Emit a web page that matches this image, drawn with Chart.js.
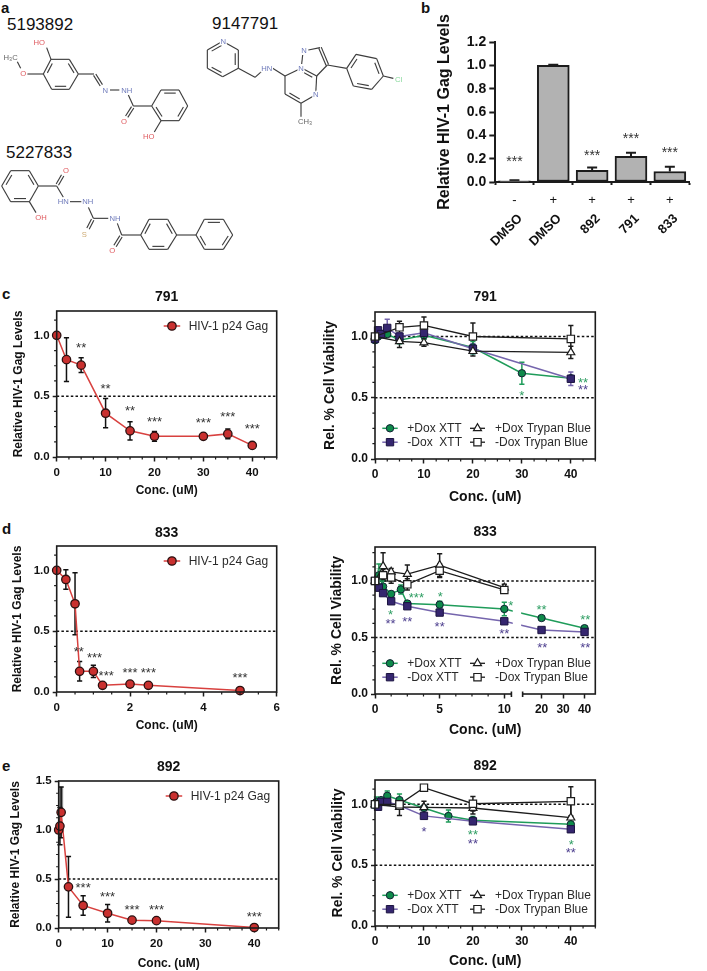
<!DOCTYPE html>
<html><head><meta charset="utf-8">
<script src="https://cdn.jsdelivr.net/npm/chart.js@4/dist/chart.umd.js"></script>
<style>
html,body{margin:0;padding:0;background:#fff;width:707px;height:971px;overflow:hidden;font-family:"Liberation Sans",Arial,sans-serif}
canvas{position:absolute;filter:blur(0.3px)}
.lbl{position:absolute;color:#111;white-space:nowrap;line-height:1}
.pl{font-weight:bold;font-size:15px}
.cn{font-size:17px}
svg{position:absolute;left:0;top:0;filter:blur(0.3px)}
</style></head><body>
<div class="lbl pl" style="left:1px;top:0px">a</div>
<div class="lbl pl" style="left:421px;top:0px">b</div>
<div class="lbl pl" style="left:2px;top:286px">c</div>
<div class="lbl pl" style="left:2px;top:521px">d</div>
<div class="lbl pl" style="left:2px;top:758px">e</div>
<div class="lbl cn" style="left:7px;top:16px">5193892</div>
<div class="lbl cn" style="left:212px;top:15px">9147791</div>
<div class="lbl cn" style="left:6px;top:144px">5227833</div>
<svg id="mol" width="420" height="280" viewBox="0 0 1260 840"></svg>
<script>
// ---------- panel b ----------
const bCategories = ['DMSO','DMSO','892','791','833'];
const bDox = ['-','+','+','+','+'];
const bValues = [0.01,1.0,0.10,0.22,0.09];
const bErrors = [0.006,0.005,0.025,0.03,0.04];
const bStars = [[0,0.19,'***'],[2,0.245,'***'],[3,0.394,'***'],[4,0.268,'***']];

// ---------- panel c ----------
const c791Conc = [0,2,5,10,15,20,30,35,40];
const c791Gag = [1.0,0.80,0.755,0.36,0.215,0.17,0.17,0.19,0.095];
const c791GagErr = [0,0.18,0.06,0.12,0.075,0.04,0.012,0.04,0.005];
const c791GagStars = [[5,0.91,'**'],[10,0.575,'**'],[15,0.397,'**'],[20,0.307,'***'],[30,0.296,'***'],[35,0.348,'***'],[40,0.247,'***']];

const c791GreenX = [0,0.625,1.25,2.5,5,10,20,30,40];
const c791Green = [0.97,1.0,1.02,1.02,0.97,1.01,0.91,0.70,0.66];
const c791GreenErr = [0.02,0.02,0.02,0.02,0.03,0.03,0.05,0.09,0.02];
const c791PurpleX = [0,0.625,1.25,2.5,5,10,20,40];
const c791Purple = [0.98,1.05,1.02,1.07,1.0,1.03,0.90,0.655];
const c791PurpleErr = [0.02,0.03,0.03,0.07,0.03,0.04,0.04,0.055];
const c791TriX = [0,5,10,20,40];
const c791Tri = [1.0,0.96,0.95,0.88,0.87];
const c791TriErr = [0.01,0.05,0.03,0.04,0.05];
const c791SqX = [0,5,10,20,40];
const c791Sq = [1.0,1.075,1.09,1.0,0.98];
const c791SqErr = [0.01,0.05,0.07,0.11,0.11];
const c791GreenStars = [[30,0.533,'*'],[42.5,0.642,'**']];
const c791PurpleStars = [[42.5,0.58,'**']];

// ---------- panel d ----------
const d833Conc = [0,0.25,0.5,0.625,1,1.25,2,2.5,5];
const d833Gag = [1.0,0.925,0.725,0.17,0.17,0.055,0.065,0.055,0.012];
const d833GagErr = [0,0.08,0.255,0.08,0.05,0.01,0.01,0.01,0.005];
const d833GagStars = [[0.6,0.347,'**'],[1.03,0.295,'***'],[1.35,0.15,'***'],[2,0.17,'***'],[2.5,0.17,'***'],[5,0.13,'***']];

const d833GreenX = [0,0.3,0.625,1.25,2,2.5,5,10,20,40];
const d833Green = [1.0,1.05,0.95,0.885,0.925,0.80,0.79,0.752,0.672,0.582];
const d833GreenErr = [0.02,0.10,0.05,0.02,0.04,0.02,0.03,0.06,0.02,0.02];
const d833PurpleX = [0,0.3,0.625,1.25,2.5,5,10,20,40];
const d833Purple = [1.0,0.94,0.892,0.82,0.776,0.72,0.643,0.566,0.549];
const d833PurpleErr = [0.01,0.02,0.02,0.02,0.02,0.02,0.02,0.02,0.02];
const d833TriX = [0,0.625,1.25,2.5,5,10];
const d833Tri = [1.0,1.13,1.08,1.06,1.14,0.94];
const d833TriErr = [0.01,0.12,0.03,0.08,0.10,0.03];
const d833SqX = [0,0.625,1.25,2.5,5,10];
const d833Sq = [1.0,1.05,1.03,0.97,1.09,0.92];
const d833SqErr = [0.01,0.05,0.05,0.05,0.06,0.03];
const d833GreenStars = [[0.3,1.10,'*'],[1.2,0.714,'*'],[3.2,0.865,'***'],[5.05,0.876,'*'],[10.5,0.80,'*'],[20,0.758,'**'],[40.3,0.67,'**']];
const d833PurpleStars = [[1.2,0.637,'**'],[2.5,0.66,'**'],[5,0.61,'**'],[10,0.546,'**'],[20.3,0.428,'**'],[40.3,0.428,'**']];

// ---------- panel e ----------
const e892Conc = [0,0.25,0.5,2,5,10,15,20,40];
const e892Gag = [1.0,1.04,1.18,0.42,0.23,0.15,0.08,0.075,0.005];
const e892GagErr = [0,0.19,0.26,0.31,0.10,0.09,0.01,0.01,0.005];
const e892GagBand = [0,0,0.26,0,0,0,0,0,0];
const e892GagStars = [[5,0.432,'***'],[10,0.34,'***'],[15,0.207,'***'],[20,0.207,'***'],[40,0.13,'***']];

const e892GreenX = [0,0.3,1.25,2.5,5,10,15,20,40];
const e892Green = [1.0,1.02,1.035,1.07,1.035,0.97,0.904,0.869,0.836];
const e892GreenErr = [0.03,0.04,0.02,0.04,0.05,0.02,0.05,0.03,0.04];
const e892PurpleX = [0,0.625,1.25,2.5,5,10,20,40];
const e892Purple = [1.0,0.98,1.02,1.02,0.99,0.905,0.86,0.795];
const e892PurpleErr = [0.02,0.02,0.02,0.02,0.02,0.02,0.02,0.02];
const e892TriX = [0,5,10,20,40];
const e892Tri = [1.0,0.978,0.975,0.97,0.89];
const e892TriErr = [0.01,0.07,0.05,0.05,0.12];
const e892SqX = [0,5,10,20,40];
const e892Sq = [1.0,1.0,1.137,1.005,1.025];
const e892SqErr = [0.01,0.01,0.01,0.06,0.12];
const e892GreenStars = [[20,0.765,'**'],[40.1,0.686,'*']];
const e892PurpleStars = [[10,0.787,'*'],[20,0.694,'**'],[40,0.615,'**']];

// ---------- shared labels ----------
const gagLegend = 'HIV-1 p24 Gag';
const viabLegendC = ['+Dox XTT','-Dox  XTT','+Dox Trypan Blue','-Dox Trypan Blue'];
const viabLegend = ['+Dox XTT','-Dox XTT','+Dox Trypan Blue','-Dox Trypan Blue'];
const gagTitle = 'Relative HIV-1 Gag Levels';
const viabTitle = 'Rel. % Cell Viability';
const concTitle = 'Conc. (uM)';
const halfLine = [0.5];
const viabRefLines = [0.5,1.0];
const xTicks45 = [0,10,20,30,40];
const xTicksD = [0,2,4,6];
const xTicksDR = [0,5,10,20,30,40];
const yTicks12 = [0,0.5,1.0];
const yTicks15 = [0,0.5,1.0,1.5];

// ---------- chart helpers ----------
const FONT = '"Liberation Sans", Arial, sans-serif';
Chart.defaults.font.family = FONT;
Chart.defaults.color = '#111';
const INK = '#1c1c1c', RED_FILL='#c9302f', RED_LINE='#d8413f';
const GREEN_LINE='#1f9c5a', GREEN_FILL='#0e8a4a', PURPLE_LINE='#7565ad', PURPLE_FILL='#35266f';
const STYLE = {
  gag:{point:'circle',radius:4.2,fill:RED_FILL,line:RED_LINE,width:1.5,edge:'#2a1010',edgeW:1.3,err:'#111'},
  green:{point:'circle',radius:3.7,fill:GREEN_FILL,line:GREEN_LINE,width:1.5,edge:'#123',edgeW:1,err:GREEN_LINE},
  purple:{point:'rect',radius:5.2,fill:PURPLE_FILL,line:PURPLE_LINE,width:1.5,edge:'#1c1440',edgeW:1,err:PURPLE_LINE},
  tri:{point:'triangle',radius:4.6,fill:'#fff',line:INK,width:1.3,edge:INK,edgeW:1.2,err:INK},
  sq:{point:'rect',radius:5.2,fill:'#fff',line:INK,width:1.3,edge:INK,edgeW:1.2,err:INK}
};
function series(label,xs,ys,errs,s){
  return {label,data:xs.map((x,i)=>({x,y:ys[i]})),errors:errs,errorColor:s.err,clip:false,tension:0,
    borderColor:s.line,borderWidth:s.width,backgroundColor:s.fill,pointStyle:s.point,pointRadius:s.radius,
    pointBackgroundColor:s.fill,pointBorderColor:s.edge,pointBorderWidth:s.edgeW};
}
function refLine(y,x0,x1){
  return {label:'ref '+y,data:[{x:x0,y},{x:x1,y}],borderColor:'#111',borderWidth:1.5,borderDash:[2.5,2.2],pointRadius:0,clip:false};
}
// value axis with a broken section, used by the 833 viability panel
class BrokenLinear extends Chart.LinearScale {
  getPixelForValue(v){
    const b=BrokenLinear.cut;
    return v<=b.end1 ? this.left+v*b.k1 : this.right-(this.max-v)*b.k2;
  }
}
BrokenLinear.id='brokenLinear';
BrokenLinear.defaults={};
BrokenLinear.cut={end1:10.55,start2:11.2,k1:12.93,k2:2.15};
Chart.register(BrokenLinear);

function steps(a,b,s,skip){const out=[];for(let i=0;;i++){const v=a+i*s;if(v>b+1e-9)break;if(!skip.some(t=>Math.abs(t-v)<1e-9))out.push(v);}return out;}

function panelPlugin(c){
  return {id:'panel',
    beforeDatasetsDraw(chart){
      const ctx=chart.ctx,X=chart.scales.x,Y=chart.scales.y;
      chart.data.datasets.forEach(ds=>{
        if(ds.band){
          ctx.save();ctx.strokeStyle='#8a8a8a';ctx.lineWidth=4;
          ds.band.forEach((e,i)=>{if(!e)return;const p=ds.data[i],x=X.getPixelForValue(p.x);
            ctx.beginPath();ctx.moveTo(x,Y.getPixelForValue(p.y));ctx.lineTo(x,Y.getPixelForValue(p.y+e));ctx.stroke();});
          ctx.restore();
        }
        if(!ds.errors)return;
        ctx.save();ctx.strokeStyle=ds.errorColor;ctx.lineWidth=1.5;
        ds.errors.forEach((e,i)=>{
          if(!e)return;
          const p=ds.data[i],x=X.getPixelForValue(p.x),a=Y.getPixelForValue(p.y+e),b=Y.getPixelForValue(Math.max(p.y-e,0));
          ctx.beginPath();ctx.moveTo(x,a);ctx.lineTo(x,b);ctx.moveTo(x-2.6,a);ctx.lineTo(x+2.6,a);ctx.moveTo(x-2.6,b);ctx.lineTo(x+2.6,b);ctx.stroke();
        });
        ctx.restore();
      });
    },
    afterDatasetsDraw(chart){
      const ctx=chart.ctx,X=chart.scales.x,Y=chart.scales.y,A=chart.chartArea;
      ctx.save();
      if(c.broken){ // interruption of the curves across the axis break
        ctx.fillStyle='#fff';
        const xa=X.left+10.63*BrokenLinear.cut.k1+0.3, xb=X.right-(X.max-11.2)*BrokenLinear.cut.k2-1.5;
        ctx.fillRect(xa,Y.getPixelForValue(0.82),xb-xa,Y.getPixelForValue(0.56)-Y.getPixelForValue(0.82));
      }
      ctx.strokeStyle=INK;ctx.lineWidth=1.6;
      ctx.strokeRect(A.left,A.top,A.right-A.left,A.bottom-A.top);
      if(c.broken){
        const xa=X.left+BrokenLinear.cut.end1*BrokenLinear.cut.k1, xb=X.right-(X.max-BrokenLinear.cut.start2)*BrokenLinear.cut.k2;
        ctx.fillStyle='#fff';ctx.fillRect(xa,A.bottom-1.5,xb-xa,3);
        ctx.beginPath();ctx.moveTo(xa,A.bottom-2.5);ctx.lineTo(xa,A.bottom+3);ctx.moveTo(xb,A.bottom-2.5);ctx.lineTo(xb,A.bottom+3);ctx.stroke();
      }
      // minor ticks
      ctx.lineWidth=1.2;ctx.beginPath();
      c.xMinor.forEach(v=>{const x=X.getPixelForValue(v);ctx.moveTo(x,A.bottom);ctx.lineTo(x,A.bottom+2.6);});
      c.yMinor.forEach(v=>{const y=Y.getPixelForValue(v);ctx.moveTo(A.left,y);ctx.lineTo(A.left-2.6,y);});
      ctx.stroke();
      // significance marks
      ctx.textAlign='center';ctx.textBaseline='middle';ctx.font='13px '+FONT;
      (c.stars||[]).forEach(set=>{
        ctx.fillStyle=set.color;
        set.items.forEach(s=>ctx.fillText(s[2],X.getPixelForValue(s[0]),Y.getPixelForValue(s[1])+2.6));
      });
      // legend inside the plot
      ctx.textAlign='left';ctx.font='12px '+FONT;
      (c.legend||[]).forEach(l=>{
        const s=l.style,y=l.dy<0?A.bottom+l.dy:A.top+l.dy;
        ctx.strokeStyle=s.line;ctx.lineWidth=s.width;ctx.beginPath();ctx.moveTo(A.left+l.x0,y);ctx.lineTo(A.left+l.x1,y);ctx.stroke();
        ctx.fillStyle=s.fill;ctx.strokeStyle=s.edge;ctx.lineWidth=s.edgeW;
        Chart.helpers.drawPoint(ctx,{pointStyle:s.point,rotation:0,radius:s.radius,borderWidth:s.edgeW},A.left+(l.x0+l.x1)/2,y);
        ctx.fillStyle='#2a2a2a';ctx.fillText(l.text,A.left+l.tx,y+0.5);
      });
      ctx.restore();
    }};
}

function makeChart(c){
  const [l,t,r,b]=c.plot;
  const cl=l>300?320:0, cw=l>300?300:300, ct=t-30, ch=b-t+30+50;
  const cv=document.createElement('canvas');
  cv.width=cw;cv.height=ch;cv.style.left=cl+'px';cv.style.top=ct+'px';document.body.appendChild(cv);
  const yLh=c.ySize*1.2,xLh=c.xSize*1.2,xH=c.xTitleY-b+xLh/2,tLh=14*1.2,pt=c.titleY-ct-tLh/2;
  new Chart(cv.getContext('2d'),{
    type:'line',
    data:{datasets:c.datasets},
    options:{responsive:false,animation:false,devicePixelRatio:1,
      layout:{padding:{left:0,top:0,right:cw-(r-cl),bottom:ch-(b-ct)-xH}},
      plugins:{legend:{display:false},tooltip:{enabled:false},
        title:{display:true,text:c.title,fullSize:false,font:{size:14,weight:'bold'},color:'#111',padding:{top:pt,bottom:30-tLh-pt}}},
      scales:{
        x:{type:c.broken?'brokenLinear':'linear',min:c.xMin,max:c.xMax,
          afterBuildTicks:s=>{s.ticks=c.xTicks.map(v=>({value:v}));},
          afterFit:s=>{s.height=xH;},
          grid:{drawOnChartArea:false,tickLength:4.5,tickWidth:1.5,tickColor:INK},border:{display:false},
          ticks:{autoSkip:false,maxRotation:0,padding:4,color:'#111',font:{size:c.tickSize,weight:'bold'},callback:v=>String(v)},
          title:{display:true,text:concTitle,color:'#111',font:{size:c.xSize,weight:'bold'},padding:{top:0,bottom:0}}},
        y:{type:'linear',min:0,max:c.yMax,
          afterBuildTicks:s=>{s.ticks=c.yTicks.map(v=>({value:v}));},
          afterFit:s=>{s.width=l-cl;},
          grid:{drawOnChartArea:false,tickLength:4,tickWidth:1.5,tickColor:INK},border:{display:false},
          ticks:{autoSkip:false,padding:3,color:'#111',font:{size:c.tickSize,weight:'bold'},callback:v=>v.toFixed(1)},
          title:{display:true,text:c.yTitle,color:'#111',font:{size:c.ySize,weight:'bold'},padding:{top:c.yTitleX-cl-yLh/2,bottom:0}}}
      }},
    plugins:[panelPlugin(c)]
  });
}
function gagChart(o){
  const main=series(gagLegend,o.xs,o.ys,o.errs,STYLE.gag);
  if(o.band)main.band=o.band;
  makeChart(Object.assign({ySize:12,xSize:12,tickSize:11.5,yTitle:gagTitle,
    datasets:[main,refLine(halfLine[0],o.xMin,o.xMax)],
    stars:[{color:'#333',items:o.starItems}],
    legend:[{style:STYLE.gag,text:gagLegend,x0:107,x1:123.5,tx:132,dy:15}]},o));
}
function viabChart(o){
  const names=o.names||viabLegend;
  makeChart(Object.assign({ySize:14,xSize:14,tickSize:12,yTitle:viabTitle,yMax:1.2,yTicks:yTicks12,
    datasets:[series(names[3],o.sq[0],o.sq[1],o.sq[2],STYLE.sq),
      series(names[2],o.tri[0],o.tri[1],o.tri[2],STYLE.tri),
      series(names[1],o.pur[0],o.pur[1],o.pur[2],STYLE.purple),
      series(names[0],o.gre[0],o.gre[1],o.gre[2],STYLE.green),
      ...viabRefLines.map(y=>refLine(y,o.xMin,o.xMax))],
    stars:[{color:'#2f9e63',items:o.gs},{color:'#4d3f8e',items:o.ps}],
    legend:[{style:STYLE.green,text:names[0],x0:7.3,x1:22.7,tx:32.3,dy:-30.7},
      {style:STYLE.purple,text:names[1],x0:7.3,x1:22.7,tx:32.3,dy:-16.8},
      {style:STYLE.tri,text:names[2],x0:95,x1:110,tx:120,dy:-30.7},
      {style:STYLE.sq,text:names[3],x0:95,x1:110,tx:120,dy:-16.8}]},o));
}

const y125 = steps(0,1.2,0.125,yTicks12);
const x25 = steps(0,45,2.5,xTicks45);

gagChart({plot:[56.7,310.7,276.7,456.7],title:'791',titleY:297.3,yTitleX:18.7,xTitleY:490,xMin:0,xMax:45,xTicks:xTicks45,xMinor:x25,yMax:1.2,yTicks:yTicks12,yMinor:y125,
  xs:c791Conc,ys:c791Gag,errs:c791GagErr,starItems:c791GagStars});
viabChart({plot:[375,312,595.3,459],title:'791',titleY:297.5,yTitleX:330,xTitleY:496.7,xMin:0,xMax:45,xTicks:xTicks45,xMinor:x25,yMinor:y125,names:viabLegendC,
  gre:[c791GreenX,c791Green,c791GreenErr],pur:[c791PurpleX,c791Purple,c791PurpleErr],tri:[c791TriX,c791Tri,c791TriErr],sq:[c791SqX,c791Sq,c791SqErr],gs:c791GreenStars,ps:c791PurpleStars});

gagChart({plot:[56.7,545.7,276.7,691.7],title:'833',titleY:532.5,yTitleX:17.5,xTitleY:725,xMin:0,xMax:6,xTicks:xTicksD,xMinor:steps(0,6,0.5,xTicksD),yMax:1.2,yTicks:yTicks12,yMinor:y125,
  xs:d833Conc,ys:d833Gag,errs:d833GagErr,starItems:d833GagStars});
viabChart({plot:[375,547,595.3,694],broken:true,title:'833',titleY:532.5,yTitleX:337,xTitleY:730,xMin:0,xMax:45,xTicks:xTicksDR,xMinor:steps(0,10,1.25,xTicksDR),yMax:1.3,yMinor:steps(0,1.3,0.125,yTicks12),
  gre:[d833GreenX,d833Green,d833GreenErr],pur:[d833PurpleX,d833Purple,d833PurpleErr],tri:[d833TriX,d833Tri,d833TriErr],sq:[d833SqX,d833Sq,d833SqErr],gs:d833GreenStars,ps:d833PurpleStars});

gagChart({plot:[58.7,781,278.7,928],title:'892',titleY:767,yTitleX:15.5,xTitleY:964,xMin:0,xMax:45,xTicks:xTicks45,xMinor:x25,yMax:1.5,yTicks:yTicks15,yMinor:steps(0,1.5,0.125,yTicks15),
  xs:e892Conc,ys:e892Gag,errs:e892GagErr,band:e892GagBand,starItems:e892GagStars});
viabChart({plot:[375,780.3,595.3,927],title:'892',titleY:766.5,yTitleX:338,xTitleY:962,xMin:0,xMax:45,xTicks:xTicks45,xMinor:x25,yMinor:y125,
  gre:[e892GreenX,e892Green,e892GreenErr],pur:[e892PurpleX,e892Purple,e892PurpleErr],tri:[e892TriX,e892Tri,e892TriErr],sq:[e892SqX,e892Sq,e892SqErr],gs:e892GreenStars,ps:e892PurpleStars});

// ---------- bar panel b ----------
(function(){
  const cl=430,ct=0,cw=277,ch=270,l=495,t=42,r=705.7,b=182;
  const cv=document.createElement('canvas');cv.width=cw;cv.height=ch;cv.style.left=cl+'px';cv.style.top=ct+'px';document.body.appendChild(cv);
  const labelPlugin={id:'barExtras',
    beforeDatasetsDraw(chart){
      const ctx=chart.ctx,X=chart.scales.x,Y=chart.scales.y;
      ctx.save();ctx.strokeStyle=INK;ctx.lineWidth=2;
      bValues.forEach((v,i)=>{const x=X.getPixelForValue(i),a=Y.getPixelForValue(v+bErrors[i]),z=Y.getPixelForValue(v);
        ctx.beginPath();ctx.moveTo(x,z);ctx.lineTo(x,a);ctx.moveTo(x-5,a);ctx.lineTo(x+5,a);ctx.stroke();});
      ctx.restore();
    },
    afterDatasetsDraw(chart){
      const ctx=chart.ctx,X=chart.scales.x,Y=chart.scales.y;
      ctx.save();ctx.textBaseline='middle';ctx.fillStyle='#333';ctx.textAlign='center';ctx.font='14px '+FONT;
      bStars.forEach(s=>ctx.fillText(s[2],X.getPixelForValue(s[0]),Y.getPixelForValue(s[1])+2.8));
      ctx.fillStyle='#111';ctx.font='13px '+FONT;
      bDox.forEach((d,i)=>ctx.fillText(d,X.getPixelForValue(i),200));
      ctx.textAlign='right';ctx.fillText('Dox:',496-0,200);
      ctx.restore();
    }};
  new Chart(cv.getContext('2d'),{
    type:'bar',
    data:{labels:bCategories,datasets:[{label:'Relative HIV-1 Gag Levels',data:bValues,backgroundColor:'#b2b2b2',borderColor:INK,borderWidth:2,borderSkipped:false,barThickness:32}]},
    options:{responsive:false,animation:false,devicePixelRatio:1,
      layout:{padding:{left:0,top:t-ct,right:cw-(r-cl),bottom:10}},
      plugins:{legend:{display:false},tooltip:{enabled:false}},
      scales:{
        x:{type:'category',afterFit:s=>{s.height=ch-(b-ct)-10;},
          grid:{drawOnChartArea:false,tickLength:3,tickWidth:2,tickColor:INK},border:{display:true,color:INK,width:2},
          ticks:{autoSkip:false,minRotation:45,maxRotation:45,padding:26,labelOffset:6,color:'#111',font:{size:13,weight:'bold'}}},
        y:{min:0,max:1.2,afterFit:s=>{s.width=l-cl;},
          afterBuildTicks:s=>{s.ticks=[0,0.2,0.4,0.6,0.8,1.0,1.2].map(v=>({value:v}));},
          grid:{drawOnChartArea:false,tickLength:5.7,tickWidth:2,tickColor:INK},border:{display:true,color:INK,width:2},
          ticks:{autoSkip:false,padding:3,color:'#111',font:{size:14,weight:'bold'},callback:v=>v.toFixed(1)},
          title:{display:true,text:gagTitle,color:'#111',font:{size:16,weight:'bold'},padding:{top:15-9.6,bottom:0}}}
      }},
    plugins:[labelPlugin]
  });
})();

// ---------- chemical structures (panel a) ----------
(function(){
  const svg=document.getElementById('mol'),NS='http://www.w3.org/2000/svg';
  const bond=(a,b,col)=>{const e=document.createElementNS(NS,'line');e.setAttribute('x1',a[0]);e.setAttribute('y1',a[1]);e.setAttribute('x2',b[0]);e.setAttribute('y2',b[1]);e.setAttribute('stroke',col||'#3c3c3c');e.setAttribute('stroke-width','3.4');svg.appendChild(e);};
  const chain=(pts,col)=>{for(let i=0;i<pts.length-1;i++)bond(pts[i],pts[i+1],col);};
  const ring=(pts,dbl)=>{
    const cx=pts.reduce((s,p)=>s+p[0],0)/pts.length,cy=pts.reduce((s,p)=>s+p[1],0)/pts.length;
    pts.forEach((p,i)=>{const q=pts[(i+1)%pts.length];bond(p,q);
      if(dbl.includes(i)){const f=0.8;const a=[cx+(p[0]-cx)*f,cy+(p[1]-cy)*f],c=[cx+(q[0]-cx)*f,cy+(q[1]-cy)*f];
        const m=0.1,a2=[a[0]+(c[0]-a[0])*m,a[1]+(c[1]-a[1])*m],c2=[c[0]+(a[0]-c[0])*m,c[1]+(a[1]-c[1])*m];bond(a2,c2);}
    });
  };
  const dbl=(a,b)=>{const dx=b[0]-a[0],dy=b[1]-a[1],n=Math.hypot(dx,dy),ox=-dy/n*4,oy=dx/n*4;bond([a[0]+ox,a[1]+oy],[b[0]+ox,b[1]+oy]);bond([a[0]-ox,a[1]-oy],[b[0]-ox,b[1]-oy]);};
  const txt=(s,x,y,col)=>{const e=document.createElementNS(NS,'text');e.setAttribute('x',x);e.setAttribute('y',y);e.setAttribute('fill',col);e.setAttribute('font-size','23');e.setAttribute('text-anchor','middle');e.setAttribute('dominant-baseline','central');e.setAttribute('font-family','Liberation Sans, Arial, sans-serif');e.setAttribute('stroke','#fff');e.setAttribute('stroke-width','8');e.setAttribute('paint-order','stroke');e.textContent=s;svg.appendChild(e);};
  const O='#df5a5f',N='#6f7bbb',C='#666',S='#cdaa72',CL='#86d89a';
  // 5193892
  ring([[130,222],[153,178],[208,178],[235,222],[208,268],[155,268]],[0,2,4]);
  chain([[140,143],[153,178]]);chain([[82,222],[130,222]]);chain([[52,185],[62,205]]);
  chain([[235,222],[282,222]]);dbl([284,224],[304,256]);chain([[330,270],[358,270]]);
  chain([[385,285],[400,318],[455,318]]);dbl([398,322],[380,350]);
  ring([[455,318],[483,270],[537,270],[563,318],[537,362],[483,362]],[1,3,5]);
  chain([[483,362],[463,396]]);
  txt('HO',118,126,O);txt('O',70,220,O);txt('H\u2083C',32,172,C);txt('N',316,270,N);txt('NH',380,270,N);txt('O',372,364,O);txt('HO',446,410,O);
  // 9147791
  ring([[622,150],[668,124],[715,150],[715,205],[668,230],[622,205]],[2,4,0]);
  chain([[715,205],[765,232],[785,214]]);chain([[818,205],[855,228]]);
  ring([[855,228],[855,282],[903,310],[947,284],[950,228],[905,204]],[1,4]);
  chain([[905,192],[908,165]]);chain([[925,150],[960,143]]);dbl([960,143],[982,195]);chain([[982,195],[950,228]]);
  chain([[903,310],[903,350]]);chain([[982,195],[1040,205]]);
  ring([[1040,205],[1068,163],[1130,176],[1150,228],[1115,268],[1060,258]],[0,2,4]);
  chain([[1150,228],[1180,235]]);
  txt('N',670,125,N);txt('HN',800,204,N);txt('N',912,152,N);txt('N',903,205,N);txt('N',947,284,N);txt('CH\u2083',915,365,C);txt('Cl',1196,238,CL);
  // 5227833
  ring([[5,558],[32,512],[88,512],[115,558],[88,605],[32,605]],[0,2,4]);
  chain([[115,558],[170,558],[190,592]]);dbl([172,554],[188,526]);chain([[210,605],[245,605]]);
  chain([[88,605],[108,638]]);
  chain([[265,622],[280,655],[325,655]]);dbl([278,659],[264,686]);chain([[352,670],[365,705],[422,705]]);dbl([363,709],[345,738]);
  ring([[422,705],[447,658],[503,658],[530,705],[503,748],[447,748]],[0,2,4]);
  chain([[530,705],[588,705]]);
  ring([[588,705],[613,658],[670,658],[698,705],[670,748],[613,748]],[1,3,5]);
  txt('O',198,510,O);txt('HN',190,605,N);txt('NH',263,605,N);txt('OH',123,653,O);txt('NH',345,655,N);txt('S',253,703,S);txt('O',337,750,O);
})();
</script>
</body></html>
